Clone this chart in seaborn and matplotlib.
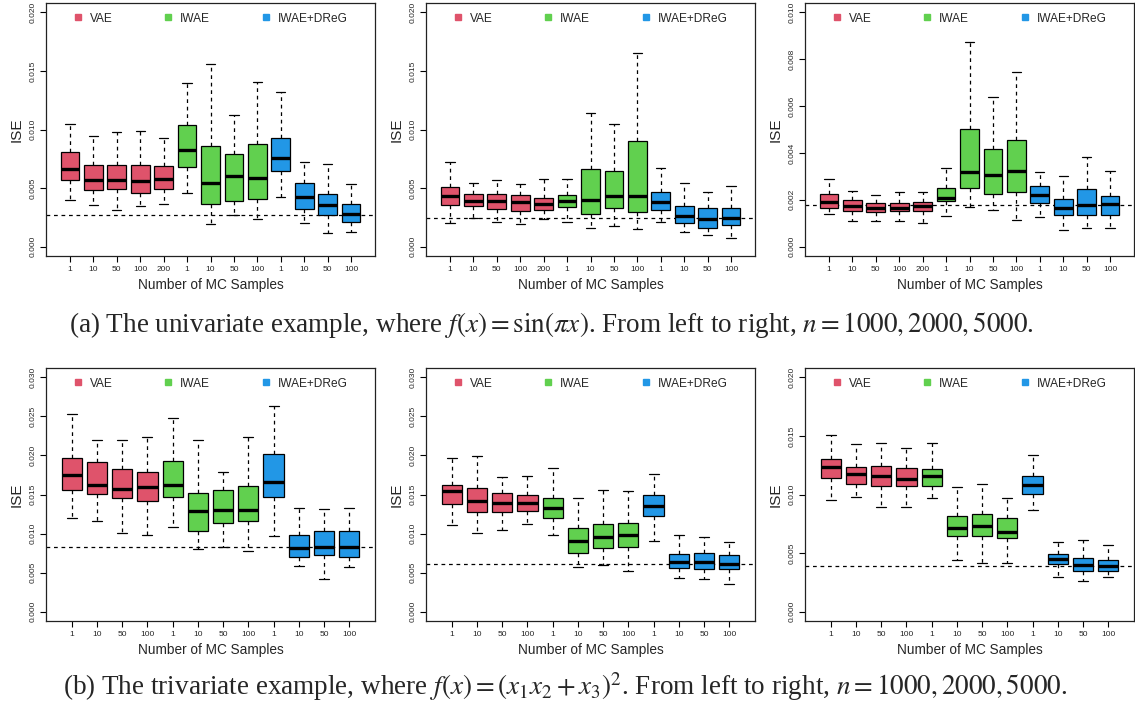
import numpy as np
import pandas as pd
import seaborn as sns
import matplotlib.pyplot as plt
from matplotlib.lines import Line2D

sns.set_style("white")
plt.rcParams["font.family"] = ["Liberation Sans", "DejaVu Sans"]
plt.rcParams["mathtext.fontset"] = "stix"

methods = ["VAE", "IWAE", "IWAE+DReG"]
colors = ["#DF536B", "#61D04F", "#2297E6"]

# MC sample sizes for each method
vae_a = [1, 10, 50, 100, 200]
vae_b = [1, 10, 50, 100]
iwae_mc = [1, 10, 50, 100]
dreg_mc = [1, 10, 50, 100]

# five-number summaries in units of 1e-3: [low whisker, Q1, median, Q3, high whisker]
uni_1000 = [
    [4.00, 5.71, 6.62, 8.10, 10.48],
    [3.55, 4.86, 5.65, 6.96, 9.46],
    [3.13, 4.91, 5.65, 6.93, 9.80],
    [3.49, 4.57, 5.60, 6.96, 9.89],
    [3.66, 4.88, 5.74, 6.85, 9.27],
    [4.57, 6.84, 8.21, 10.37, 13.94],
    [1.96, 3.60, 5.41, 8.60, 15.60],
    [2.67, 3.92, 6.05, 7.95, 11.25],
    [2.33, 4.09, 5.85, 8.75, 14.09],
    [4.23, 6.45, 7.53, 9.29, 13.24],
    [2.01, 3.24, 4.20, 5.42, 7.19],
    [1.13, 2.69, 3.55, 4.46, 7.04],
    [1.25, 2.10, 2.75, 3.61, 5.34],
]
uni_2000 = [
    [2.05, 3.52, 4.29, 5.09, 7.22],
    [2.41, 3.49, 3.92, 4.52, 5.40],
    [2.07, 3.18, 3.89, 4.52, 5.68],
    [1.90, 3.01, 3.78, 4.38, 5.37],
    [2.33, 3.10, 3.66, 4.15, 5.74],
    [2.13, 3.41, 3.92, 4.40, 5.77],
    [1.62, 2.81, 3.98, 6.62, 11.39],
    [1.76, 3.27, 4.32, 6.45, 10.51],
    [1.51, 2.95, 4.35, 9.03, 16.53],
    [2.13, 3.15, 3.78, 4.66, 6.68],
    [1.22, 2.02, 2.59, 3.49, 5.43],
    [0.99, 1.62, 2.36, 3.32, 4.66],
    [0.77, 1.88, 2.44, 3.27, 5.17],
]
uni_5000 = [
    [1.41, 1.66, 1.89, 2.24, 2.90],
    [1.11, 1.53, 1.72, 2.00, 2.36],
    [1.11, 1.49, 1.66, 1.86, 2.20],
    [1.09, 1.51, 1.66, 1.88, 2.32],
    [1.02, 1.51, 1.72, 1.92, 2.34],
    [1.29, 1.93, 2.06, 2.50, 3.34],
    [1.70, 2.49, 3.17, 5.01, 8.72],
    [1.56, 2.26, 3.07, 4.18, 6.38],
    [1.15, 2.33, 3.22, 4.56, 7.44],
    [1.28, 1.88, 2.22, 2.57, 3.18],
    [0.72, 1.35, 1.63, 2.03, 3.01],
    [0.78, 1.34, 1.76, 2.47, 3.82],
    [0.80, 1.35, 1.82, 2.17, 3.22],
]
tri_1000 = [
    [11.97, 15.64, 17.44, 19.70, 25.34],
    [11.62, 15.04, 16.24, 19.10, 21.97],
    [10.04, 14.53, 15.73, 18.29, 21.97],
    [9.79, 14.23, 15.98, 17.86, 22.35],
    [10.85, 14.70, 16.28, 19.32, 24.79],
    [7.99, 10.34, 12.91, 15.21, 22.01],
    [8.25, 11.37, 13.03, 15.64, 17.86],
    [7.74, 11.58, 12.99, 16.11, 22.31],
    [9.70, 14.62, 16.54, 20.13, 26.37],
    [5.90, 7.05, 8.16, 9.79, 13.29],
    [4.19, 7.26, 8.25, 10.30, 13.08],
    [5.68, 7.01, 8.29, 10.38, 13.21],
]
tri_2000 = [
    [11.07, 13.76, 15.47, 16.28, 19.62],
    [10.04, 12.82, 14.15, 15.81, 19.96],
    [10.43, 12.74, 13.97, 15.17, 17.18],
    [11.20, 12.91, 13.97, 15.00, 17.31],
    [9.79, 12.01, 13.21, 14.57, 18.33],
    [5.68, 7.56, 9.10, 10.77, 14.49],
    [5.94, 8.16, 9.57, 11.28, 15.64],
    [5.17, 8.29, 9.87, 11.41, 15.47],
    [9.06, 12.31, 13.55, 15.00, 17.61],
    [4.36, 5.56, 6.41, 7.39, 9.79],
    [4.19, 5.47, 6.32, 7.56, 9.53],
    [3.59, 5.51, 6.11, 7.26, 8.93],
]
tri_5000 = [
    [9.57, 11.40, 12.34, 13.05, 15.10],
    [9.80, 10.88, 11.77, 12.39, 14.30],
    [8.95, 10.71, 11.62, 12.45, 14.36],
    [8.97, 10.71, 11.34, 12.22, 13.96],
    [9.74, 10.71, 11.54, 12.17, 14.36],
    [4.42, 6.47, 7.12, 8.15, 10.60],
    [4.16, 6.44, 7.35, 8.35, 10.88],
    [4.16, 6.27, 6.81, 8.03, 9.66],
    [8.69, 10.03, 10.85, 11.57, 13.36],
    [2.93, 4.10, 4.47, 4.90, 5.95],
    [2.59, 3.48, 3.96, 4.56, 6.13],
    [2.96, 3.48, 3.93, 4.44, 5.73],
]

# dashed reference lines (1e-3)
ref_a = [2.73, 2.44, 1.79]
ref_b = [8.25, 6.07, 3.90]

ymax_a = [0.020, 0.020, 0.010]
ymax_b = [0.030, 0.030, 0.020]
ystep_a = [0.005, 0.005, 0.002]
ystep_b = [0.005, 0.005, 0.005]


def make_df(summaries, vae_mc):
    sizes = [vae_mc, iwae_mc, dreg_mc]
    rows = []
    k = 0
    for m, mc in zip(methods, sizes):
        for s in mc:
            for v in summaries[k]:
                rows.append({"group": f"{m}_{s}", "method": m, "ise": v / 1000})
            k += 1
    return pd.DataFrame(rows)


def draw(ax, summaries, vae_mc, ref, ymax, ystep):
    df = make_df(summaries, vae_mc)
    order = list(dict.fromkeys(df["group"]))
    sns.boxplot(data=df, x="group", y="ise", hue="method", order=order, hue_order=methods,
                palette=colors, dodge=False, width=0.8, whis=(0, 100), saturation=1,
                linecolor="black", linewidth=0.9, legend=False, showfliers=False, ax=ax,
                medianprops=dict(linewidth=2.4, color="black"),
                whiskerprops=dict(linestyle=(0, (3, 3)), linewidth=0.9),
                capprops=dict(linewidth=0.9))
    ax.axhline(ref / 1000, color="black", linestyle=(0, (3, 3)), linewidth=0.9, zorder=0.5)
    n = len(order)
    ax.set_xlim(-1.02, n - 1 + 1.02)
    ax.set_ylim(-0.04 * ymax, 1.04 * ymax)
    ax.set_xticks(range(n))
    ax.set_xticklabels([g.split("_")[1] for g in order], fontsize=6)
    yt = np.arange(0, ymax + 1e-9, ystep)
    ax.set_yticks(yt)
    ax.set_yticklabels([f"{v:.3f}" for v in yt], fontsize=6, rotation=90, va="center")
    ax.tick_params(axis="both", length=4, width=0.8, color="black", pad=3, left=True, bottom=True)
    ax.set_xlabel("Number of MC Samples", fontsize=9.8, labelpad=4)
    ax.set_ylabel("ISE", fontsize=11, labelpad=4)
    for sp in ax.spines.values():
        sp.set_color("#222222")
        sp.set_linewidth(0.9)
    handles = [Line2D([], [], marker="s", linestyle="", color=c, markersize=4.5) for c in colors]
    ax.legend(handles, methods, loc="upper center", ncol=3, frameon=False, fontsize=8.6,
              handlelength=0.8, handletextpad=0.6, columnspacing=4.3, borderaxespad=0.4)


fig = plt.figure(figsize=(11.35, 7.13), dpi=100)
W, H = 1135, 713
lefts = [46, 426, 805]
width = 329
row_a = [uni_1000, uni_2000, uni_5000]
row_b = [tri_1000, tri_2000, tri_5000]
for i in range(3):
    ax = fig.add_axes([lefts[i] / W, 1 - 256 / H, width / W, 253 / H])
    draw(ax, row_a[i], vae_a, ref_a[i], ymax_a[i], ystep_a[i])
    ax = fig.add_axes([lefts[i] / W, 1 - 621 / H, width / W, 253 / H])
    draw(ax, row_b[i], vae_b, ref_b[i], ymax_b[i], ystep_b[i])

fig.text(0.486, 1 - 325 / H,
         r"(a) The univariate example, where $f(x) = \sin(\pi x)$. From left to right, $n = 1000, 2000, 5000$.",
         ha="center", va="center", fontsize=19.5, family=["Liberation Serif", "DejaVu Serif"])
fig.text(0.498, 1 - 687 / H,
         r"(b) The trivariate example, where $f(x) = (x_1 x_2 + x_3)^2$. From left to right, $n = 1000, 2000, 5000$.",
         ha="center", va="center", fontsize=19.5, family=["Liberation Serif", "DejaVu Serif"])

fig.savefig("out.png", dpi=100)
